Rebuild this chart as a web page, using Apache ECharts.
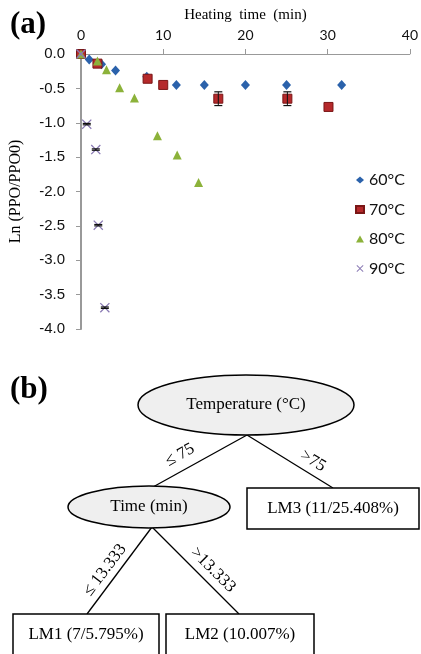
<!DOCTYPE html>
<html>
<head>
<meta charset="utf-8">
<script src="https://cdn.jsdelivr.net/npm/echarts@6/dist/echarts.min.js"></script>
<style>html,body{margin:0;padding:0;background:#fff}#main{width:421px;height:654px}</style>
</head>
<body>
<div id="main"></div>
<script>
// (a) heating data, [time min, ln(PPO/PPO0)]
var seriesNames = ['60°C', '70°C', '80°C', '90°C'];
var t60 = [[0, 0], [1, -0.08], [2.5, -0.15], [4.2, -0.24], [8, -0.33], [11.6, -0.45], [15, -0.45], [20, -0.45], [25, -0.45], [31.7, -0.45]];
var t70 = [[0, 0], [2, -0.14], [8.1, -0.36], [10, -0.45], [16.7, -0.65], [25.1, -0.65], [30.1, -0.77]];
var t80 = [[0, 0], [2, -0.1], [3.1, -0.23], [4.7, -0.49], [6.5, -0.64], [9.3, -1.19], [11.7, -1.47], [14.3, -1.87]];
var t90 = [[0, 0], [0.7, -1.02], [1.8, -1.39], [2.1, -2.49], [2.9, -3.69]];
// error bars [x, y, err]
var errBars = [[16.7, -0.65, 0.1], [25.1, -0.65, 0.1], [0.7, -1.02, 0.01], [1.8, -1.39, 0.01], [2.1, -2.49, 0.01], [2.9, -3.69, 0.01]];

// (b) model tree
var treeNodes = ['Temperature (°C)', 'Time (min)', 'LM3 (11/25.408%)', 'LM1 (7/5.795%)', 'LM2 (10.007%)'];
var treeSplits = ['≤ 75', '>75', '≤ 13.333', '>13.333'];

var colors = ['#2b62ab', '#b5292b', '#8cb23a', '#8a7ab4'];
var crossPath = 'path://M0,0.9L0.9,0L5,4.1L9.1,0L10,0.9L5.9,5L10,9.1L9.1,10L5,5.9L0.9,10L0,9.1L4.1,5Z';

var myChart = echarts.init(document.getElementById('main'));

// tree geometry (pixels)
var shapes = [
    {kind: 'ellipse', cx: 246, cy: 405, rx: 108, ry: 30},
    {kind: 'ellipse', cx: 149, cy: 507, rx: 81, ry: 21},
    {kind: 'rect', x: 247, y: 488, w: 172, h: 41},
    {kind: 'rect', x: 13, y: 614, w: 146, h: 50, ty: 635},
    {kind: 'rect', x: 166, y: 614, w: 148, h: 50, ty: 635}
];
var links = [[247, 435, 153, 487], [247, 435, 333, 488], [152, 527, 87, 614], [152, 527, 239, 614]];
var splitPos = [[180, 455, 29], [313, 461, -31], [105, 570, 53], [213, 570, -45]];

var serifFont = '"Liberation Serif", "Times New Roman", serif';
var graphic = [
    {type: 'text', x: 10, y: 25, style: {text: '(a)', font: 'bold 31px ' + serifFont, fill: '#000', verticalAlign: 'middle'}},
    {type: 'text', x: 10, y: 390, style: {text: '(b)', font: 'bold 31px ' + serifFont, fill: '#000', verticalAlign: 'middle'}}
];
links.forEach(function (l) {
    graphic.push({type: 'line', shape: {x1: l[0], y1: l[1], x2: l[2], y2: l[3]}, style: {stroke: '#000', lineWidth: 1.3}});
});
shapes.forEach(function (s, i) {
    var cx, cy;
    if (s.kind === 'ellipse') {
        graphic.push({type: 'ellipse', shape: {cx: s.cx, cy: s.cy, rx: s.rx, ry: s.ry},
            style: {fill: '#efefef', stroke: '#000', lineWidth: 1.5}});
        cx = s.cx; cy = s.cy;
    } else {
        graphic.push({type: 'rect', shape: {x: s.x, y: s.y, width: s.w, height: s.h},
            style: {fill: '#fff', stroke: '#000', lineWidth: 1.5}});
        cx = s.x + s.w / 2; cy = s.ty || (s.y + s.h / 2);
    }
    graphic.push({type: 'text', x: cx, y: cy, z: 10,
        style: {text: treeNodes[i], font: '17px ' + serifFont, fill: '#000', align: 'center', verticalAlign: 'middle'}});
});
splitPos.forEach(function (p, i) {
    graphic.push({type: 'text', x: p[0], y: p[1], rotation: p[2] * Math.PI / 180,
        style: {text: treeSplits[i], font: '17px ' + serifFont, fill: '#000', align: 'center', verticalAlign: 'middle'}});
});

var option = {
    animation: false,
    color: colors,
    grid: {left: 80, right: 8.5, top: 54, bottom: 325},
    legend: {
        orient: 'vertical', left: 350, top: 167, itemWidth: 8, itemHeight: 7, itemGap: 13.5,
        textStyle: {fontSize: 16, fontFamily: 'Lato', color: '#111'},
        data: seriesNames
    },
    xAxis: {
        type: 'value', position: 'top', min: 0, max: 40, interval: 10,
        name: 'Heating  time  (min)', nameLocation: 'middle', nameGap: 31,
        nameTextStyle: {fontFamily: serifFont, fontSize: 15, color: '#000'},
        axisLine: {lineStyle: {color: '#999', width: 1}},
        axisTick: {show: true, length: 5, lineStyle: {color: '#999'}},
        axisLabel: {fontFamily: 'Lato', fontSize: 14, color: '#111', margin: 12},
        splitLine: {show: false}
    },
    yAxis: {
        type: 'value', min: -4, max: 0, interval: 0.5,
        name: 'Ln (PPO/PPO0)', nameLocation: 'middle', nameGap: 57,
        nameTextStyle: {fontFamily: serifFont, fontSize: 16, color: '#000'},
        axisLine: {show: true, lineStyle: {color: '#999', width: 2}},
        axisTick: {show: true, length: 5, lineStyle: {color: '#999'}},
        axisLabel: {fontFamily: '"Liberation Sans", Arial', fontSize: 15, color: '#111', margin: 16,
            formatter: function (v) { return v.toFixed(1); }},
        splitLine: {show: false}
    },
    graphic: graphic,
    series: [
        {name: seriesNames[0], type: 'scatter', symbol: 'diamond', symbolSize: [9, 10], data: t60,
            itemStyle: {color: colors[0], opacity: 1}},
        {name: seriesNames[1], type: 'scatter', symbol: 'rect', symbolSize: 9, data: t70,
            itemStyle: {color: colors[1], borderColor: '#7a1616', borderWidth: 1, opacity: 1}},
        {name: seriesNames[2], type: 'scatter', symbol: 'triangle', symbolSize: 9, data: t80,
            itemStyle: {color: colors[2], opacity: 1}},
        {name: seriesNames[3], type: 'scatter', symbol: crossPath, symbolSize: 10, data: t90,
            itemStyle: {color: colors[3], opacity: 1}},
        {
            type: 'custom', name: 'err', data: errBars, z: 5,
            renderItem: function (params, api) {
                var x = api.value(0), y = api.value(1), e = api.value(2);
                var hi = api.coord([x, y + e]), lo = api.coord([x, y - e]);
                var w = 4;
                return {type: 'group', children: [
                    {type: 'line', shape: {x1: hi[0], y1: hi[1], x2: lo[0], y2: lo[1]}, style: {stroke: '#111', lineWidth: 1}},
                    {type: 'line', shape: {x1: hi[0] - w, y1: hi[1], x2: hi[0] + w, y2: hi[1]}, style: {stroke: '#111', lineWidth: 1.2}},
                    {type: 'line', shape: {x1: lo[0] - w, y1: lo[1], x2: lo[0] + w, y2: lo[1]}, style: {stroke: '#111', lineWidth: 1.2}}
                ]};
            }
        }
    ]
};
myChart.setOption(option);
window.onresize = myChart.resize;
</script>
</body>
</html>
